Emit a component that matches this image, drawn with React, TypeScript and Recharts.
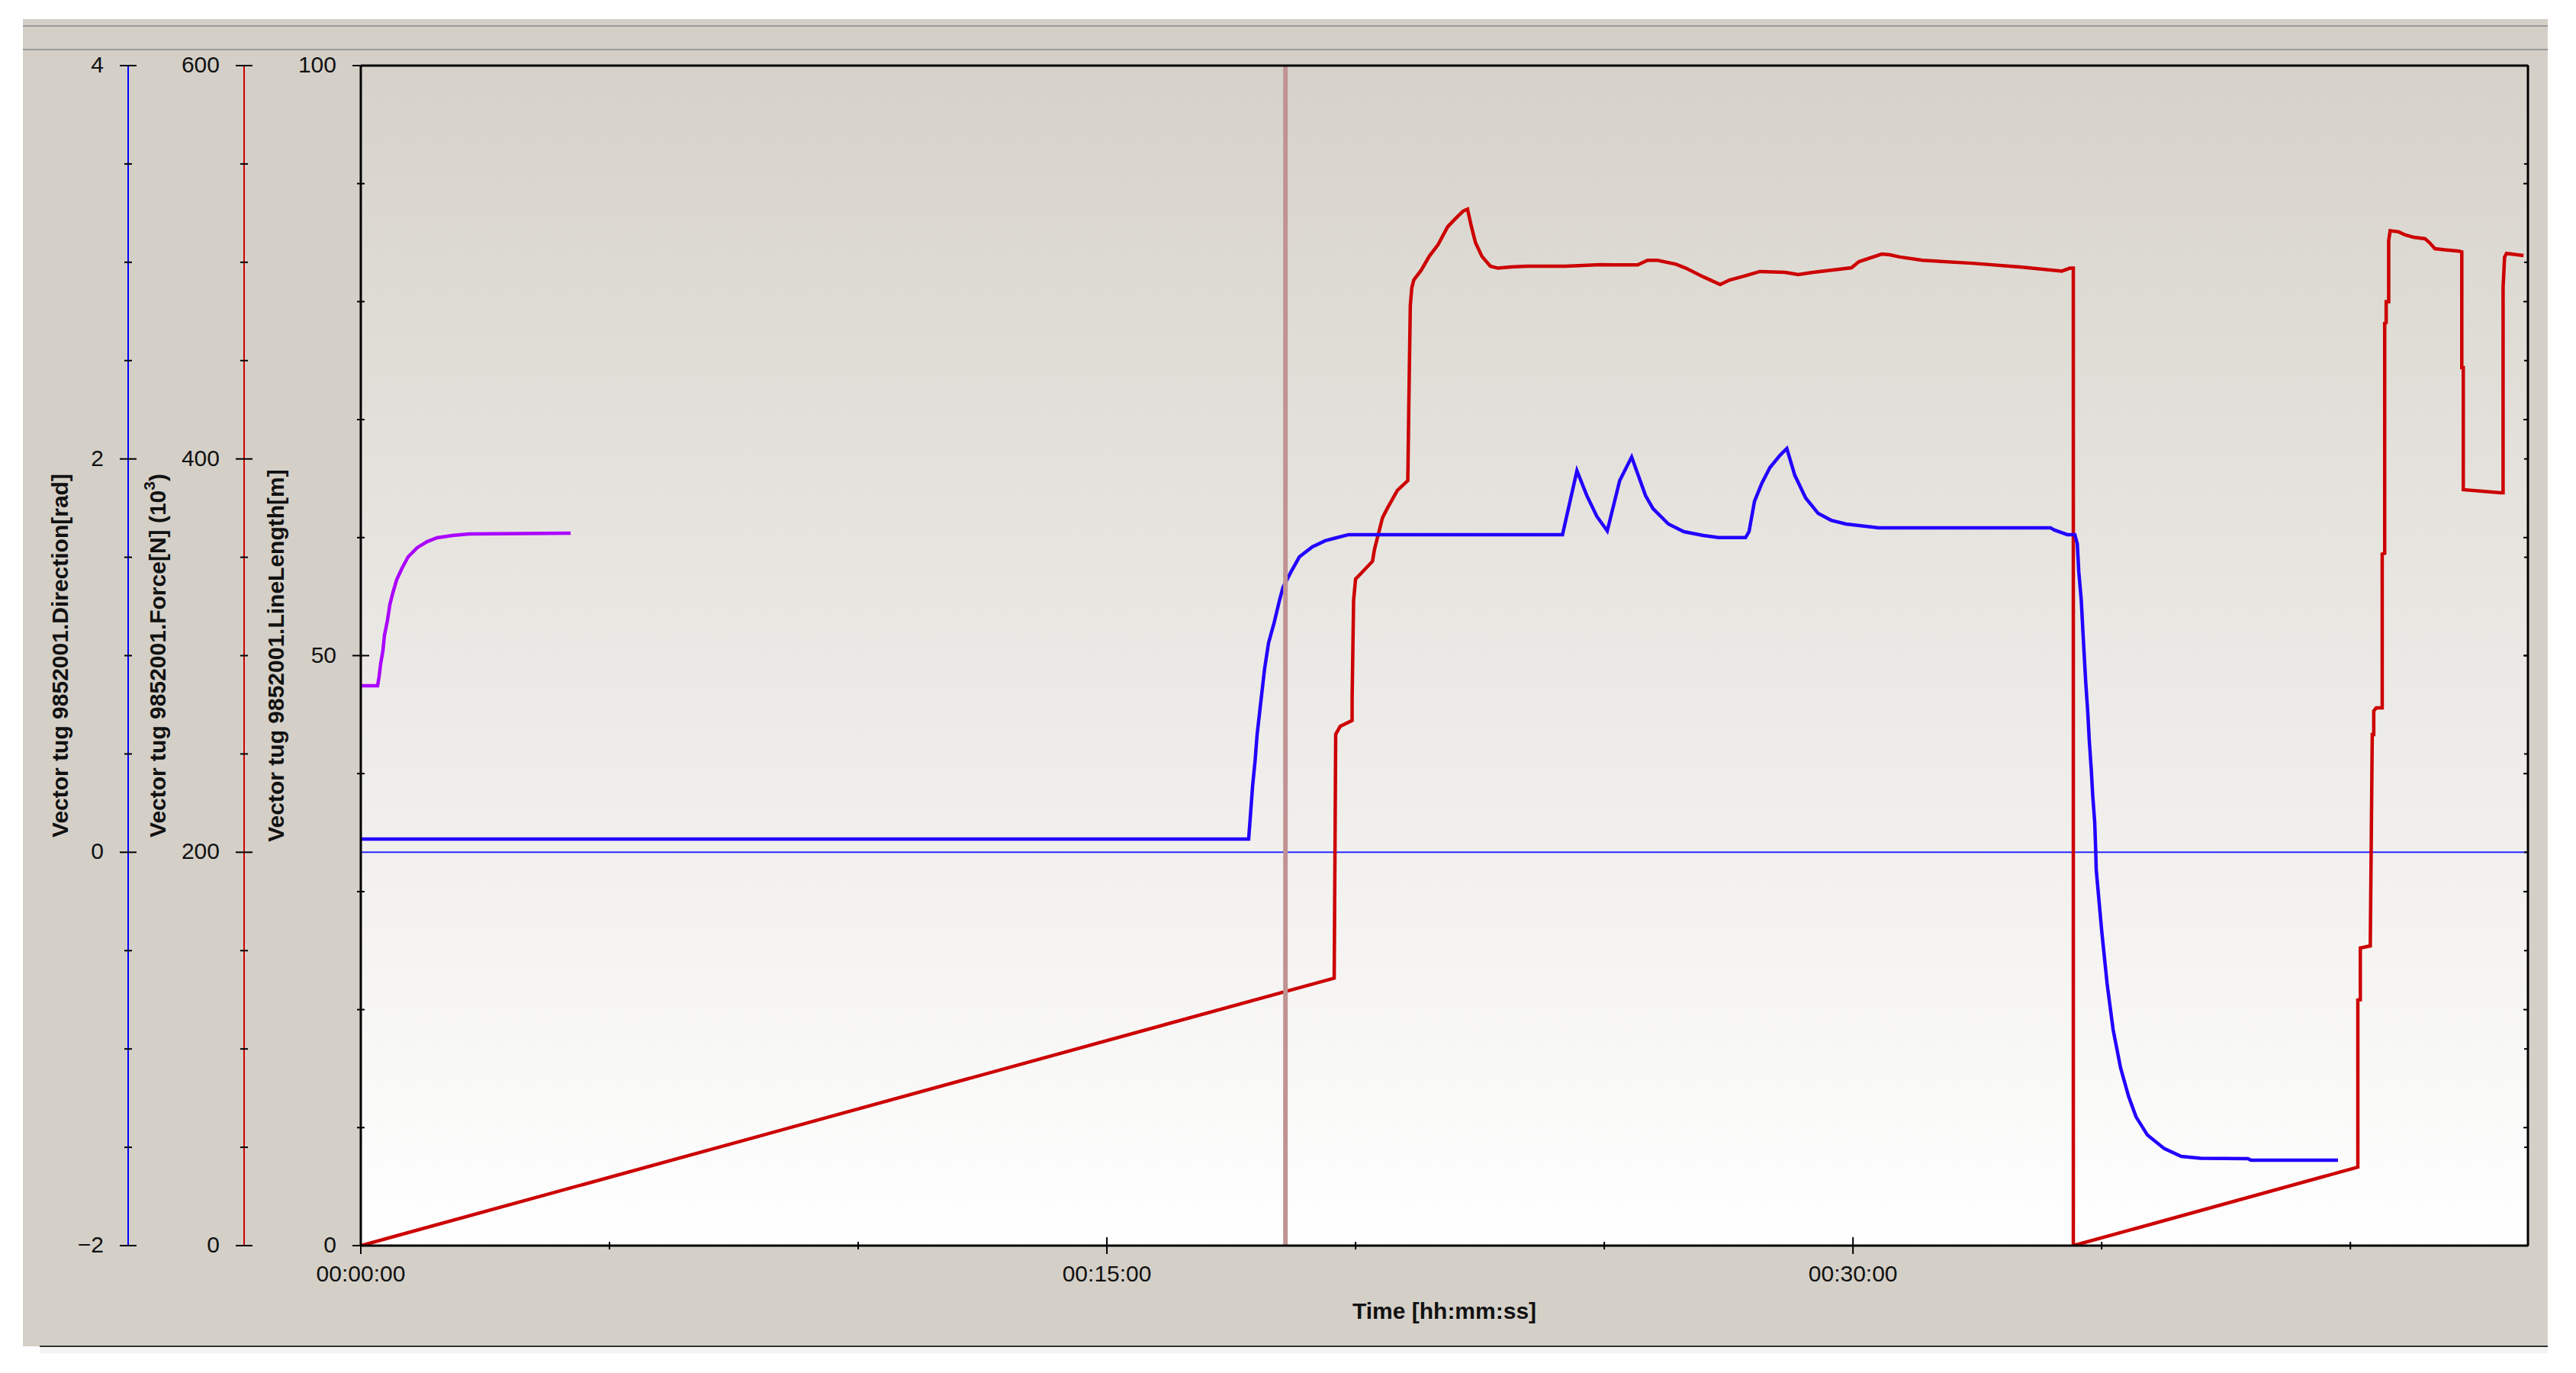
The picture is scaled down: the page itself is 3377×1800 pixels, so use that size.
import { LineChart, Line, XAxis, YAxis, CartesianGrid, ReferenceLine } from "recharts";

const FONT = '"Liberation Sans", Arial, sans-serif';

// x axis in minutes
const timeTicks = [0, 5, 10, 15, 20, 25, 30, 35, 40];
const timeMajor = [0, 15, 30];
const timeMax = 43.57;
const cursorTime = 18.59;

const dirTicks = [-2, -1.5, -1, -0.5, 0, 0.5, 1, 1.5, 2, 2.5, 3, 3.5, 4];
const dirMajor = [-2, 0, 2, 4];
const forceTicks = [0, 50, 100, 150, 200, 250, 300, 350, 400, 450, 500, 550, 600];
const forceMajor = [0, 200, 400, 600];
const lengthTicks = [0, 10, 20, 30, 40, 50, 60, 70, 80, 90, 100];
const lengthMajor = [0, 50, 100];

// axis ids: recharts stacks left axes by id order, first id next to the plot
const LL = "axis1";
const FORCE = "axis2";
const DIR = "axis3";

// Vector tug 9852001.Force[N] (10^3)
const forceTime = [
  0, 19.57, 19.6, 19.69, 19.93, 19.93, 19.96, 20.0, 20.08, 20.34,
  20.38, 20.46, 20.54, 20.64, 20.84, 21.05, 21.07, 21.1, 21.13, 21.17,
  21.32, 21.48, 21.66, 21.85, 22.0, 22.16, 22.25, 22.33, 22.41, 22.54,
  22.71, 22.86, 23.12, 23.43, 24.22, 24.92, 25.18, 25.67, 25.87, 26.07,
  26.44, 26.64, 26.99, 27.33, 27.52, 27.76, 28.13, 28.63, 28.9, 29.2,
  29.56, 29.97, 30.12, 30.58, 30.74, 30.94, 31.4, 32.4, 33.4, 34.2,
  34.36, 34.43, 34.43, 40.15, 40.15, 40.2, 40.2, 40.4, 40.44, 40.47,
  40.47, 40.52, 40.64, 40.64, 40.69, 40.69, 40.72, 40.72, 40.77, 40.77,
  40.8, 40.97, 41.1, 41.27, 41.5, 41.59, 41.7, 41.9, 42.18, 42.24,
  42.24, 42.27, 42.27, 43.02, 43.07, 43.07, 43.1, 43.14, 43.48,
];
const forceValue = [
  0, 136, 260, 264, 267, 278, 328, 339, 341, 348,
  354, 362, 370, 375, 384, 389, 427, 478, 487, 491,
  496, 503, 509, 518, 522, 526, 527, 518, 510, 503,
  498, 497, 497.6, 498, 498, 498.8, 498.7, 498.7, 501, 501,
  499, 497, 492.6, 488.7, 491, 492.6, 495.3, 494.9, 493.7, 494.9,
  496, 497.2, 500.3, 504.2, 503.8, 502.7, 501, 499.5, 497.5, 495.5,
  497, 497, 0, 39.9, 124.9, 125, 151.3, 152.4, 259.9, 259.9,
  271.9, 273.4, 273.4, 351.6, 352, 469, 469.3, 480, 480, 511,
  516, 515.5, 513.9, 512.7, 512, 510, 506.9, 506.3, 505.7, 505.3,
  446.4, 446.4, 384.4, 382.8, 382.8, 487, 502.6, 504.5, 503.4,
];

// Vector tug 9852001.Direction[rad]
const dirTime = [
  0, 17.85, 17.93, 17.98, 18.02, 18.1, 18.17, 18.25, 18.36, 18.47,
  18.54, 18.7, 18.87, 19.13, 19.39, 19.63, 19.86, 24.16, 24.45, 24.65,
  24.85, 25.06, 25.31, 25.55, 25.83, 25.98, 26.29, 26.6, 26.99, 27.3,
  27.84, 27.91, 28.02, 28.17, 28.33, 28.53, 28.67, 28.83, 29.05, 29.3,
  29.56, 29.86, 30.52, 33.97, 34.05, 34.19, 34.31, 34.46, 34.51, 34.54,
  34.59, 34.62, 34.65, 34.68, 34.72, 34.75, 34.79, 34.82, 34.86, 34.88,
  34.89, 35.0, 35.11, 35.23, 35.38, 35.54, 35.69, 35.92, 36.26, 36.6,
  36.99, 37.94, 38.0, 39.75,
];
const dirValue = [
  0.067, 0.067, 0.339, 0.467, 0.599, 0.777, 0.932, 1.064, 1.165, 1.281,
  1.347, 1.425, 1.502, 1.553, 1.584, 1.6, 1.615, 1.615, 1.94, 1.813,
  1.708, 1.634, 1.89, 2.01, 1.813, 1.747, 1.669, 1.63, 1.611, 1.6,
  1.6, 1.63, 1.785, 1.878, 1.956, 2.018, 2.053, 1.917, 1.801, 1.723,
  1.688, 1.669, 1.65, 1.65, 1.638, 1.626, 1.615, 1.615, 1.569, 1.425,
  1.281, 1.134, 0.998, 0.862, 0.715, 0.571, 0.424, 0.288, 0.153, 0.009,
  -0.088, -0.398, -0.67, -0.902, -1.096, -1.24, -1.345, -1.438, -1.507, -1.546,
  -1.556, -1.558, -1.566, -1.566,
];

// Vector tug 9852001.LineLength[m]
const lengthTime = [
  0, 0.337, 0.368, 0.399, 0.445, 0.475, 0.537, 0.583, 0.644, 0.721,
  0.828, 0.951, 1.135, 1.334, 1.534, 1.84, 2.178, 4.218,
];
const lengthValue = [
  47.45, 47.45, 48.22, 49.32, 50.42, 51.71, 53.01, 54.3, 55.33, 56.43,
  57.4, 58.37, 59.15, 59.66, 59.99, 60.18, 60.31, 60.37,
];

const zip = (ts: number[], vs: number[]) => ts.map((t, i) => ({ t, v: vs[i] }));
const forceData = zip(forceTime, forceValue);
const dirData = zip(dirTime, dirValue);
const lengthData = zip(lengthTime, lengthValue);

const fmtTime = (m: number) => {
  const s = Math.round(m * 60);
  const p = (n: number) => String(n).padStart(2, "0");
  return `${p(Math.floor(s / 3600))}:${p(Math.floor((s % 3600) / 60))}:${p(s % 60)}`;
};
const fmtNum = (v: number) => (v < 0 ? `\u2212${Math.abs(v)}` : `${v}`);

const leftTick = (major: number[]) => (props: any) => {
  const { x, y, payload } = props;
  const v = payload.value;
  const isMajor = major.includes(v);
  const len = isMajor ? 11 : 5;
  return (
    <g>
      <line x1={x - len} x2={x + len} y1={y} y2={y} stroke="#000" strokeWidth={2} />
      {isMajor && (
        <text x={x - 32} y={y + 9} textAnchor="end" fontSize={30} fontFamily={FONT} fill="#111">
          {fmtNum(v)}
        </text>
      )}
    </g>
  );
};

const rightTick = (props: any) => {
  const { x, y } = props;
  return <line x1={x - 6} x2={x} y1={y} y2={y} stroke="#000" strokeWidth={2} />;
};

const bottomTick = (props: any) => {
  const { x, y, payload } = props;
  const v = payload.value;
  const isMajor = timeMajor.includes(v);
  const len = isMajor ? 11 : 5;
  return (
    <g>
      <line x1={x} x2={x} y1={y - len} y2={y + len} stroke="#000" strokeWidth={2} />
      {isMajor && (
        <text x={x} y={y + 47} textAnchor="middle" fontSize={30} fontFamily={FONT} fill="#111">
          {fmtTime(v)}
        </text>
      )}
    </g>
  );
};

const topTick = (props: any) => {
  const { x, y } = props;
  return <line x1={x} x2={x} y1={y} y2={y + 6} stroke="#000" strokeWidth={2} />;
};

const yTitle = (offset: number, content: React.ReactNode) => (props: any) => {
  const vb = props.viewBox;
  const cx = vb.x + vb.width - offset;
  const cy = vb.y + vb.height / 2;
  return (
    <text
      x={cx}
      y={cy}
      transform={`rotate(-90 ${cx} ${cy})`}
      textAnchor="middle"
      dominantBaseline="central"
      fontSize={30}
      fontWeight="bold"
      fontFamily={FONT}
      fill="#111"
    >
      {content}
    </text>
  );
};

const timeTitle = (props: any) => {
  const vb = props.viewBox;
  return (
    <text
      x={vb.x + vb.width / 2}
      y={vb.y + 96}
      textAnchor="middle"
      fontSize={30}
      fontWeight="bold"
      fontFamily={FONT}
      fill="#111"
    >
      Time [hh:mm:ss]
    </text>
  );
};

export default function App() {
  return (
    <div style={{ position: "absolute", left: 0, top: 0, width: 3377, height: 1800, background: "#fff", fontFamily: FONT }}>
      <div style={{ position: "absolute", left: 30, top: 25, width: 3310, height: 1740, background: "#d4d0c8" }} />
      <div style={{ position: "absolute", left: 30, top: 33, width: 3310, height: 2, background: "#9a9a9a" }} />
      <div style={{ position: "absolute", left: 30, top: 64, width: 3310, height: 2, background: "#9a9a9a" }} />
      <div style={{ position: "absolute", left: 52, top: 1764, width: 3288, height: 2, background: "#333" }} />
      <div style={{ position: "absolute", left: 52, top: 1766, width: 3288, height: 8, background: "#f3f3f3" }} />
      <div style={{ position: "absolute", left: 30, top: 25 }}>
        <LineChart width={3310} height={1740} margin={{ top: 60, right: 24, bottom: 0, left: 0 }}>
          <defs>
            <linearGradient id="plotBg" x1="0" y1="0" x2="0" y2="1">
              <stop offset="0%" stopColor="#d6d2ca" />
              <stop offset="100%" stopColor="#ffffff" />
            </linearGradient>
          </defs>
          <CartesianGrid xAxisId={0} yAxisId={LL} horizontal={false} vertical={false} fill="url(#plotBg)" fillOpacity={1} />
          <XAxis
            xAxisId={0}
            dataKey="t"
            type="number"
            domain={[0, timeMax]}
            allowDataOverflow
            ticks={timeTicks}
            interval={0}
            height={132}
            tickSize={0}
            tickMargin={0}
            tickLine={false}
            axisLine={{ stroke: "#000", strokeWidth: 3 }}
            tick={bottomTick}
            label={timeTitle}
          />
          <XAxis
            xAxisId="top"
            orientation="top"
            type="number"
            domain={[0, timeMax]}
            allowDataOverflow
            ticks={timeTicks}
            interval={0}
            height={1}
            tickSize={0}
            tickMargin={0}
            tickLine={false}
            axisLine={{ stroke: "#000", strokeWidth: 3 }}
            tick={topTick}
          />
          <YAxis
            yAxisId={LL}
            type="number"
            domain={[0, 100]}
            allowDataOverflow
            ticks={lengthTicks}
            interval={0}
            width={153}
            tickSize={0}
            tickMargin={0}
            tickLine={false}
            axisLine={{ stroke: "#000", strokeWidth: 3 }}
            tick={leftTick(lengthMajor)}
            label={yTitle(112, "Vector tug 9852001.LineLength[m]")}
          />
          <YAxis
            yAxisId={FORCE}
            type="number"
            domain={[0, 600]}
            allowDataOverflow
            ticks={forceTicks}
            interval={0}
            width={152}
            tickSize={0}
            tickMargin={0}
            tickLine={false}
            axisLine={{ stroke: "#cc0000", strokeWidth: 2 }}
            tick={leftTick(forceMajor)}
            label={yTitle(
              114,
              <>
                Vector tug 9852001.Force[N] (10
                <tspan dy={-11} fontSize={21}>3</tspan>
                <tspan dy={11}>)</tspan>
              </>
            )}
          />
          <YAxis
            yAxisId={DIR}
            type="number"
            domain={[-2, 4]}
            allowDataOverflow
            ticks={dirTicks}
            interval={0}
            width={138}
            tickSize={0}
            tickMargin={0}
            tickLine={false}
            axisLine={{ stroke: "#0000ff", strokeWidth: 2 }}
            tick={leftTick(dirMajor)}
            label={yTitle(90, "Vector tug 9852001.Direction[rad]")}
          />
          <YAxis
            yAxisId="axis4"
            orientation="right"
            type="number"
            domain={[0, 100]}
            allowDataOverflow
            ticks={lengthTicks}
            interval={0}
            width={1}
            tickSize={0}
            tickMargin={0}
            tickLine={false}
            axisLine={{ stroke: "#000", strokeWidth: 3 }}
            tick={rightTick}
          />
          <YAxis
            yAxisId="axis5"
            orientation="right"
            type="number"
            domain={[-2, 4]}
            allowDataOverflow
            ticks={dirTicks}
            interval={0}
            width={1}
            tickSize={0}
            tickMargin={0}
            tickLine={false}
            axisLine={false}
            tick={rightTick}
          />
          <ReferenceLine yAxisId={DIR} y={0} stroke="#2a2aff" strokeWidth={2} />
          <Line
            data={forceData}
            dataKey="v"
            yAxisId={FORCE}
            type="linear"
            stroke="#cc0000"
            strokeWidth={4.5}
            dot={false}
            isAnimationActive={false}
          />
          <Line
            data={dirData}
            dataKey="v"
            yAxisId={DIR}
            type="linear"
            stroke="#2200ff"
            strokeWidth={4.5}
            dot={false}
            isAnimationActive={false}
          />
          <Line
            data={lengthData}
            dataKey="v"
            yAxisId={LL}
            type="linear"
            stroke="#aa00ff"
            strokeWidth={4.5}
            dot={false}
            isAnimationActive={false}
          />
          <ReferenceLine yAxisId={DIR} x={cursorTime} stroke="#c09393" strokeWidth={6} />
        </LineChart>
      </div>
    </div>
  );
}
